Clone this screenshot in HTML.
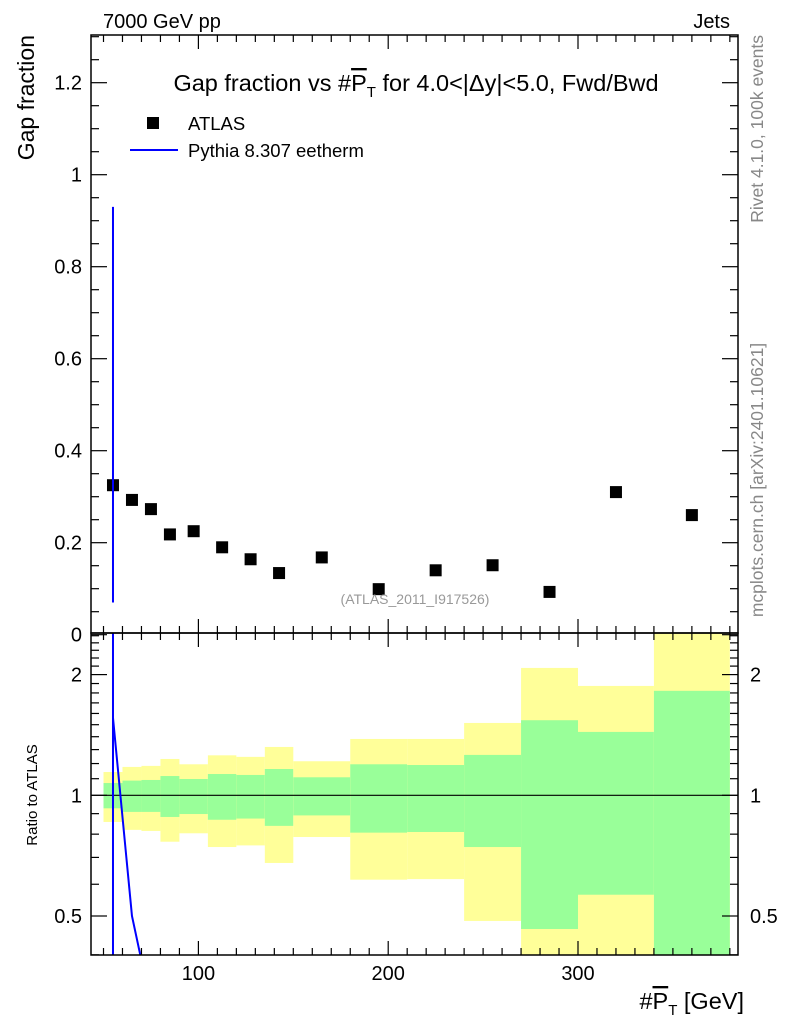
<!DOCTYPE html>
<html><head><meta charset="utf-8"><style>
body{margin:0;background:#fff;width:786px;height:1024px;overflow:hidden}
svg{font-family:"Liberation Sans",Arial,sans-serif}
</style></head><body>
<svg id="c" width="786" height="1024" xmlns="http://www.w3.org/2000/svg">
<defs>
<clipPath id="mclip"><rect x="91" y="35" width="647" height="598"/></clipPath>
<clipPath id="rclip"><rect x="91" y="633" width="647" height="322"/></clipPath>
</defs>
<g id="bands" clip-path="url(#rclip)"></g>
<g id="ticks"></g>
<g id="marks"></g>
<rect x="91" y="35" width="647" height="598" fill="none" stroke="#000" stroke-width="1.5"/>
<rect x="91" y="633" width="647" height="322" fill="none" stroke="#000" stroke-width="1.5"/>
<text x="103" y="28" font-size="20">7000 GeV pp</text>
<text x="730" y="28" font-size="20" text-anchor="end">Jets</text>
<text x="416" y="91" font-size="23.5" text-anchor="middle">Gap fraction vs #<tspan text-decoration="overline">P</tspan><tspan font-size="15" dy="6">T</tspan><tspan dy="-6"> for 4.0&lt;|Δy|&lt;5.0, Fwd/Bwd</tspan></text>
<rect x="147" y="117" width="12" height="12" fill="#000"/>
<text x="188" y="130" font-size="18.5">ATLAS</text>
<line x1="130" y1="150" x2="178" y2="150" stroke="#00f" stroke-width="2"/>
<text x="188" y="157" font-size="18.5">Pythia 8.307 eetherm</text>
<text x="415" y="604" font-size="14" fill="#999" text-anchor="middle">(ATLAS_2011_I917526)</text>
<text transform="translate(34,35) rotate(-90)" font-size="23" text-anchor="end">Gap fraction</text>
<text transform="translate(37,795) rotate(-90)" font-size="15" text-anchor="middle">Ratio to ATLAS</text>
<text x="744" y="1009" font-size="23.5" text-anchor="end">#<tspan text-decoration="overline">P</tspan><tspan font-size="15" dy="6">T</tspan><tspan dy="-6"> [GeV]</tspan></text>
<text transform="translate(763,35) rotate(-90)" font-size="17.5" fill="#888" text-anchor="end">Rivet 4.1.0,  100k events</text>
<text transform="translate(763,480) rotate(-90)" font-size="17.5" fill="#888" text-anchor="middle">mcplots.cern.ch [arXiv:2401.10621]</text>
</svg>
<script>
const edges=[50,60,70,80,90,105,120,135,150,180,210,240,270,300,340,380];
const atlas=[0.325,0.293,0.273,0.218,0.225,0.19,0.164,0.134,0.168,0.099,0.14,0.151,0.093,0.31,0.26];
const mcVal=[0.5,0,0,0,0,0,0,0,0,0,0,0,0,0,0];
const mcErrLo=[0.07];
const mcErrHi=[0.93];
const mcRatio=[1.56,0.5,0.3,0.3,0.3,0.3,0.3,0.3,0.3,0.3,0.3,0.3,0.3,0.3,0.3];
const yelHi=[1.143,1.177,1.184,1.232,1.195,1.258,1.247,1.320,1.216,1.382,1.382,1.515,2.078,1.874,3];
const yelLo=[0.858,0.820,0.815,0.766,0.804,0.743,0.750,0.678,0.787,0.616,0.618,0.486,0.3,0.3,0.3];
const grnHi=[1.073,1.088,1.092,1.117,1.098,1.130,1.124,1.163,1.109,1.195,1.190,1.261,1.539,1.439,1.822];
const grnLo=[0.928,0.909,0.909,0.883,0.898,0.869,0.875,0.839,0.891,0.807,0.810,0.743,0.464,0.565,0.3];
const xTicks=[100,200,300];
const yTicks=[0,0.2,0.4,0.6,0.8,1,1.2];
const yTickLabels=["0","0.2","0.4","0.6","0.8","1","1.2"];
const rTicks=[0.5,1,2];
const rTickLabels=["0.5","1","2"];

const NS="http://www.w3.org/2000/svg";
const X=v=>198.4+(v-100)*1.898;
const Y=v=>634.7-v*460;
const R=v=>795.3-120.7*Math.log2(v);
function mk(p,tag,a){const e=document.createElementNS(NS,tag);for(const k in a)e.setAttribute(k,a[k]);p.appendChild(e);return e;}
const bands=document.getElementById('bands'),ticks=document.getElementById('ticks'),marks=document.getElementById('marks');
for(let i=0;i<15;i++){
  const x0=X(edges[i]),x1=X(edges[i+1]);
  const y=mk(bands,'rect',{x:x0,y:R(yelHi[i]),width:x1-x0,height:R(yelLo[i])-R(yelHi[i]),fill:'#ffff99'});
  
  
  const g=mk(bands,'rect',{x:x0,y:R(grnHi[i]),width:x1-x0,height:R(grnLo[i])-R(grnHi[i]),fill:'#99ff99'});
  
  
}
const one=mk(bands,'line',{x1:91,x2:738,y1:R(1),y2:R(1),stroke:'#000','stroke-width':1.2});


for(let v=50;v<=380;v+=10){
  const maj=v%100===0, L=maj?14:7;
  for(const [y0,d] of [[633,-1],[955,-1],[35,1],[633,1]]){
    mk(ticks,'line',{x1:X(v),x2:X(v),y1:y0,y2:y0+d*L,stroke:'#000','stroke-width':1.2});
  }
}
xTicks.forEach(v=>{const t=mk(ticks,'text',{x:X(v),y:980,'font-size':20,'text-anchor':'middle'});t.textContent=v;

});
for(let k=0;k<=26;k++){const v=k*0.05,maj=k%4===0,L=maj?16:8;
  mk(ticks,'line',{x1:91,x2:91+L,y1:Y(v),y2:Y(v),stroke:'#000','stroke-width':1.2});
  mk(ticks,'line',{x1:738,x2:738-L,y1:Y(v),y2:Y(v),stroke:'#000','stroke-width':1.2});}
yTicks.forEach((v,i)=>{const t=mk(ticks,'text',{x:82,y:Y(v)+7,'font-size':20,'text-anchor':'end'});t.textContent=yTickLabels[i];

});
const rMin=[0.4,0.6,0.7,0.8,0.9,1.1,1.2,1.3,1.4,1.5,1.6,1.7,1.8,1.9,2.1,2.2,2.3,2.4,2.5];
rMin.forEach(v=>{mk(ticks,'line',{x1:91,x2:99,y1:R(v),y2:R(v),stroke:'#000','stroke-width':1.2});mk(ticks,'line',{x1:738,x2:730,y1:R(v),y2:R(v),stroke:'#000','stroke-width':1.2});});
rTicks.forEach((v,i)=>{mk(ticks,'line',{x1:91,x2:107,y1:R(v),y2:R(v),stroke:'#000','stroke-width':1.2});mk(ticks,'line',{x1:738,x2:722,y1:R(v),y2:R(v),stroke:'#000','stroke-width':1.2});
 const t=mk(ticks,'text',{x:82,y:R(v)+7,'font-size':20,'text-anchor':'end'});t.textContent=rTickLabels[i];
 
 
 const t2=mk(ticks,'text',{x:750,y:R(v)+7,'font-size':20});t2.textContent=rTickLabels[i];
 
 });
atlas.forEach((v,i)=>{const c=(edges[i]+edges[i+1])/2;
 const r=mk(marks,'rect',{x:X(c)-6,y:Y(v)-6,width:12,height:12,fill:'#000'});
 
 });
const gm=mk(marks,'g',{'clip-path':'url(#mclip)'});
const c0=(edges[0]+edges[1])/2;
const eb=mk(gm,'line',{x1:X(c0),x2:X(c0),y1:Y(mcErrLo[0]),y2:Y(mcErrHi[0]),stroke:'#00f','stroke-width':2});


const gr=mk(marks,'g',{'clip-path':'url(#rclip)'});
const vb=mk(gr,'line',{x1:X(c0),x2:X(c0),y1:633,y2:955,stroke:'#00f','stroke-width':2});


const pts=mcRatio.map((v,i)=>X((edges[i]+edges[i+1])/2)+','+R(v)).join(' ');
const pl=mk(gr,'polyline',{points:pts,fill:'none',stroke:'#00f','stroke-width':2});


</script>
</body></html>
